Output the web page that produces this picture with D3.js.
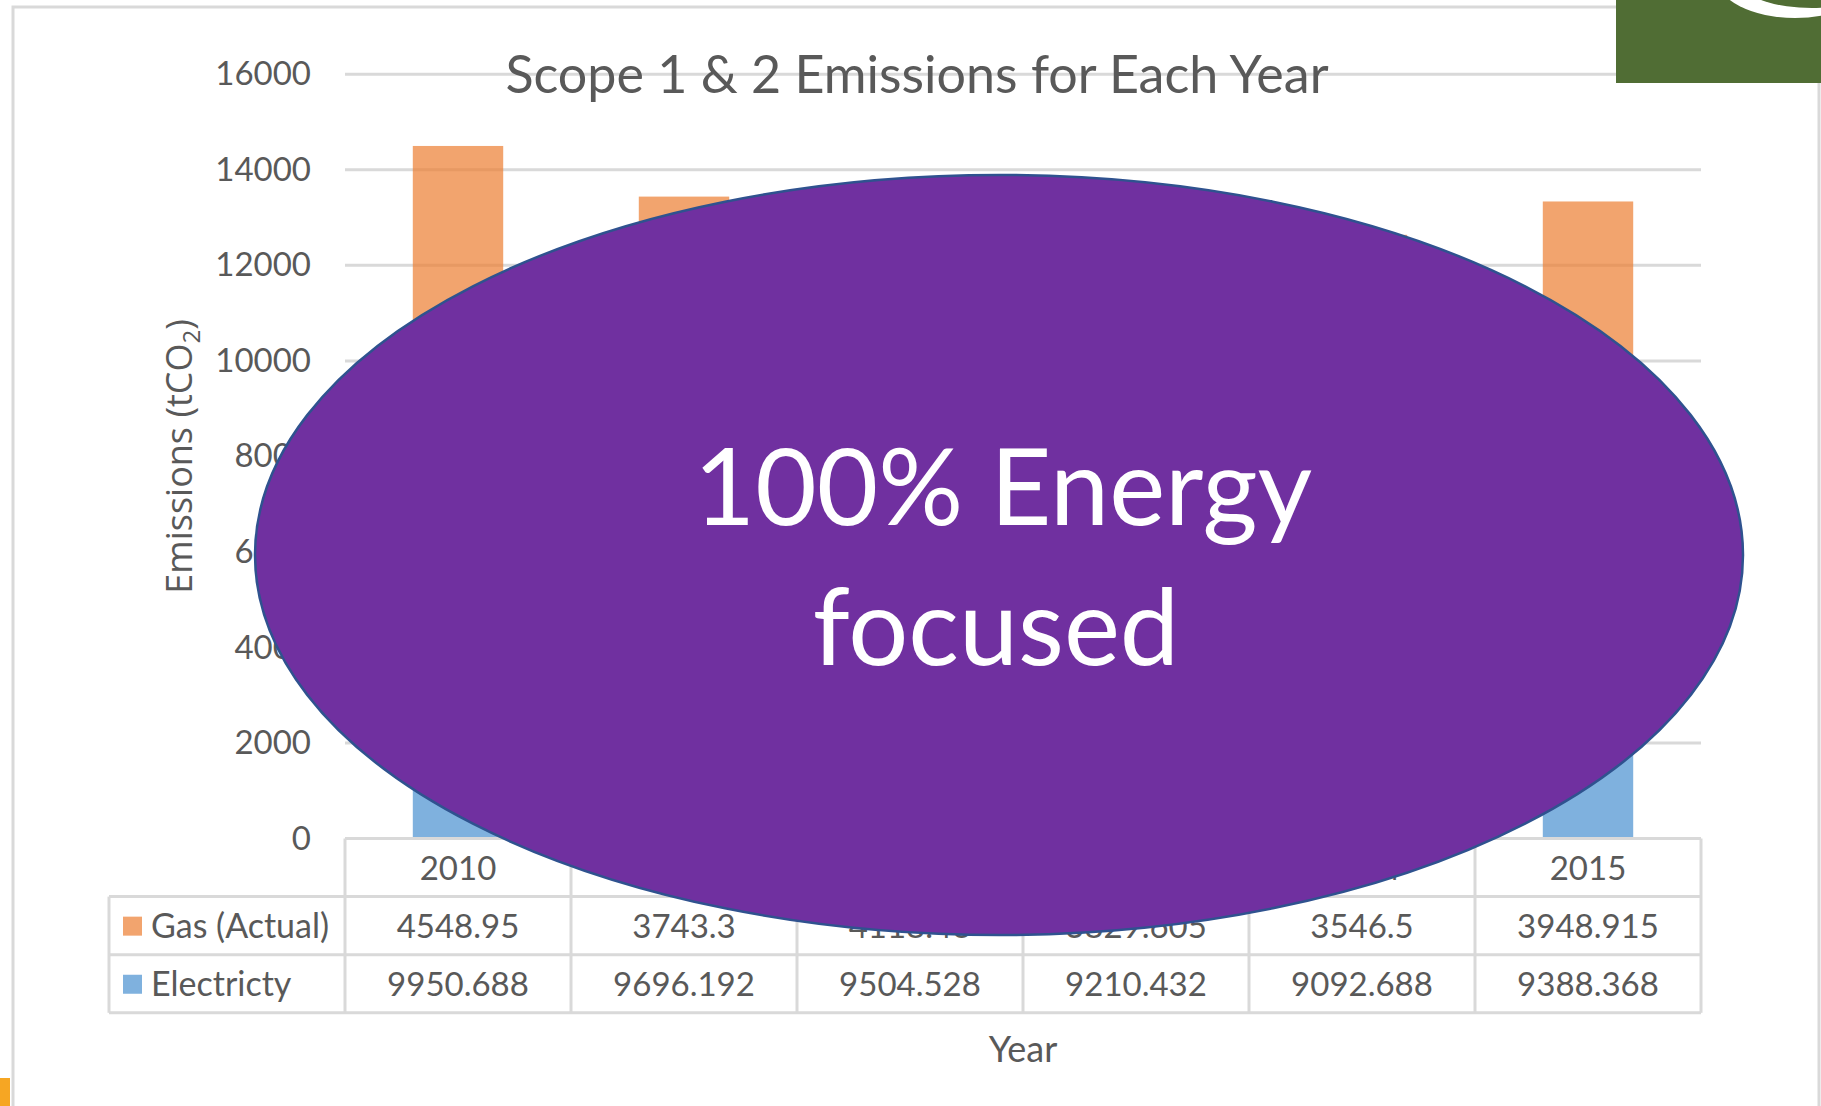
<!DOCTYPE html>
<html>
<head>
<meta charset="utf-8">
<script src="https://cdn.jsdelivr.net/npm/d3@7"></script>
<style>
  html, body { margin: 0; padding: 0; background: #fff; overflow: hidden; }
  svg { display: block; }
</style>
</head>
<body>
<svg id="chart"></svg>
<script>
// data
const years = ["2010", "2011", "2012", "2013", "2014", "2015"];
const gas = [4548.95, 3743.3, 4118.43, 3829.605, 3546.5, 3948.915];
const electricity = [9950.688, 9696.192, 9504.528, 9210.432, 9092.688, 9388.368];
const seriesNames = ["Gas (Actual)", "Electricty"];
const yTicks = [0, 2000, 4000, 6000, 8000, 10000, 12000, 14000, 16000];

const W = 1821, H = 1106;
const svg = d3.select("#chart").attr("width", W).attr("height", H);

const textCol = "#595959", gridCol = "#d9d9d9";
const gasCol = "#ED7D31", elecCol = "#5B9BD5";
const font = "Lato, 'DejaVu Sans', sans-serif";

// plot area
const plot = { left: 345, right: 1701, top: 74.3, bottom: 838.5 };

const x = d3.scaleBand().domain(years).range([plot.left, plot.right]).paddingInner(0).paddingOuter(0);
const y = d3.scaleLinear().domain([0, 16000]).range([plot.bottom, plot.top]);

// chart frame
svg.append("rect")
    .attr("x", 13).attr("y", 7)
    .attr("width", 1806).attr("height", 1120)
    .attr("fill", "#fff")
    .attr("stroke", gridCol).attr("stroke-width", 3);

// gridlines
svg.append("g")
    .selectAll("line")
    .data(yTicks.filter(d => d > 0))
    .join("line")
    .attr("x1", plot.left).attr("x2", plot.right)
    .attr("y1", d => y(d)).attr("y2", d => y(d))
    .attr("stroke", gridCol).attr("stroke-width", 3);

// y axis labels
const yAxis = svg.append("g")
    .attr("transform", `translate(${plot.left},0)`)
    .call(d3.axisLeft(y).tickValues(yTicks).tickSize(0).tickPadding(34).tickFormat(d3.format("d")));
yAxis.select(".domain").remove();
yAxis.selectAll("text")
    .attr("fill", textCol)
    .style("font-family", font)
    .style("font-size", "33px");

// stacked bars, electricity underneath
const barW = x.bandwidth() * 0.4;
const bars = svg.append("g").selectAll("g")
    .data(years.map((yr, i) => ({ yr, gas: gas[i], elec: electricity[i] })))
    .join("g")
    .attr("transform", d => `translate(${x(d.yr) + (x.bandwidth() - barW) / 2},0)`);

bars.append("rect")
    .attr("y", d => y(d.elec))
    .attr("width", barW)
    .attr("height", d => y(0) - y(d.elec))
    .attr("fill", elecCol).attr("fill-opacity", 0.78);

bars.append("rect")
    .attr("y", d => y(d.elec + d.gas))
    .attr("width", barW)
    .attr("height", d => y(d.elec) - y(d.elec + d.gas))
    .attr("fill", gasCol).attr("fill-opacity", 0.7);

// data table under the axis
const rowH = 58.1;
const tableLeft = 109;
const table = svg.append("g");
const rowTop = i => plot.bottom + rowH * i;

// horizontal lines
table.append("line")
    .attr("x1", plot.left).attr("x2", plot.right)
    .attr("y1", rowTop(0)).attr("y2", rowTop(0));
[1, 2, 3].forEach(i => {
    table.append("line")
        .attr("x1", tableLeft).attr("x2", plot.right)
        .attr("y1", rowTop(i)).attr("y2", rowTop(i));
});
// vertical lines
years.concat(["end"]).forEach((yr, i) => {
    const xx = i < years.length ? x(yr) : plot.right;
    table.append("line")
        .attr("x1", xx).attr("x2", xx)
        .attr("y1", rowTop(0)).attr("y2", rowTop(3));
});
table.append("line")
    .attr("x1", tableLeft).attr("x2", tableLeft)
    .attr("y1", rowTop(1)).attr("y2", rowTop(3));
table.selectAll("line").attr("stroke", gridCol).attr("stroke-width", 3);

const cellText = (sel) => sel
    .attr("fill", textCol)
    .style("font-family", font)
    .style("font-size", "33px");

// header row: years
table.append("g").selectAll("text")
    .data(years)
    .join("text")
    .attr("x", d => x(d) + x.bandwidth() / 2)
    .attr("y", rowTop(0) + rowH / 2 + 12)
    .attr("text-anchor", "middle")
    .text(d => d)
    .call(cellText);

// value rows
[gas, electricity].forEach((vals, r) => {
    table.append("g").selectAll("text")
        .data(vals)
        .join("text")
        .attr("x", (d, i) => x(years[i]) + x.bandwidth() / 2)
        .attr("y", rowTop(r + 1) + rowH / 2 + 12)
        .attr("text-anchor", "middle")
        .text(d => d)
        .call(cellText);

    table.append("rect")
        .attr("x", 123).attr("y", rowTop(r + 1) + rowH / 2 - 9)
        .attr("width", 19).attr("height", 19)
        .attr("fill", r === 0 ? gasCol : elecCol)
        .attr("fill-opacity", r === 0 ? 0.7 : 0.78);

    table.append("text")
        .attr("x", 151)
        .attr("y", rowTop(r + 1) + rowH / 2 + 12)
        .text(seriesNames[r])
        .call(cellText)
        .style("font-size", "34px");
});

// title
svg.append("text")
    .attr("x", 917).attr("y", 93)
    .attr("text-anchor", "middle")
    .attr("fill", textCol)
    .style("font-family", font)
    .style("font-size", "52px")
    .text("Scope 1 & 2 Emissions for Each Year");

// axis titles
const yt = svg.append("text")
    .attr("transform", `translate(192,${(plot.top + plot.bottom) / 2}) rotate(-90)`)
    .attr("text-anchor", "middle")
    .attr("fill", textCol)
    .style("font-family", "'Open Sans', sans-serif")
    .style("font-size", "36px");
yt.append("tspan").text("Emissions (tCO");
yt.append("tspan").attr("dy", 8).style("font-size", "24px").text("2");
yt.append("tspan").attr("dy", -8).text(")");

svg.append("text")
    .attr("x", (plot.left + plot.right) / 2).attr("y", 1062)
    .attr("text-anchor", "middle")
    .attr("fill", textCol)
    .style("font-family", font)
    .style("font-size", "36px")
    .text("Year");

// green corner box with logo arc
svg.append("rect")
    .attr("x", 1616).attr("y", 0).attr("width", 205).attr("height", 83)
    .attr("fill", "#506D34");
svg.append("ellipse")
    .attr("cx", 1795).attr("cy", -22).attr("rx", 78).attr("ry", 40)
    .attr("fill", "#fff");
svg.append("ellipse")
    .attr("cx", 1812).attr("cy", -14).attr("rx", 66).attr("ry", 22)
    .attr("fill", "#506D34");

// small orange mark at bottom left
svg.append("rect")
    .attr("x", 0).attr("y", 1078).attr("width", 10).attr("height", 28)
    .attr("fill", "#F6A623");

// purple oval overlay
svg.append("ellipse")
    .attr("cx", 999).attr("cy", 555).attr("rx", 744).attr("ry", 380)
    .attr("fill", "#7030A0")
    .attr("stroke", "#2F528F").attr("stroke-width", 2.5);

const big = svg.append("g")
    .attr("fill", "#fff")
    .style("font-family", font)
    .style("font-size", "106px")
    .attr("text-anchor", "middle");
big.append("text").attr("x", 1003).attr("y", 525).text("100% Energy");
big.append("text").attr("x", 996).attr("y", 665).text("focused");
</script>
</body>
</html>
